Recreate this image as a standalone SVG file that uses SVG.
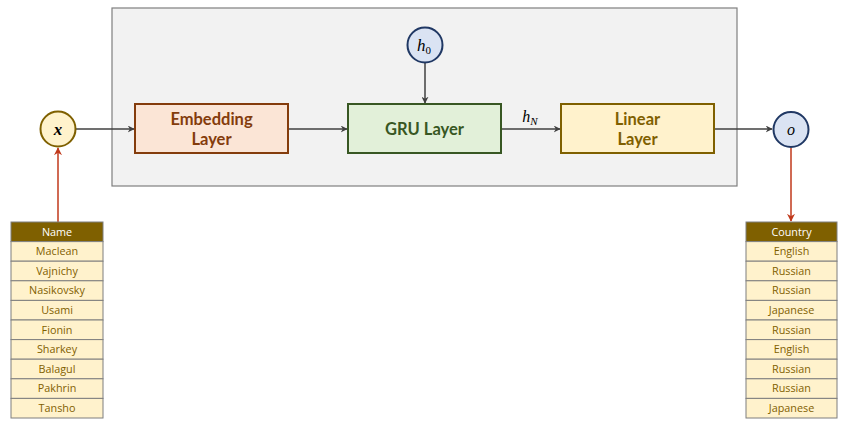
<svg xmlns="http://www.w3.org/2000/svg" width="854" height="425" viewBox="0 0 854 425">
<style>
.lbl{font-family:Lato,"Open Sans",sans-serif;font-weight:bold;font-size:16.5px;text-anchor:middle}
.math{font-family:"Liberation Serif","DejaVu Serif",serif;font-style:italic;text-anchor:middle}
.cell{fill:#FFF2CC;stroke:#7F7F7F;stroke-width:1}
.hdr{fill:#7F6000;stroke:#7F7F7F;stroke-width:1}
.ct{font-family:"Open Sans","Noto Sans",sans-serif;font-size:10.8px;fill:#7F6000;text-anchor:middle}
.ht{font-family:"Open Sans","Noto Sans",sans-serif;font-size:10.8px;fill:#FFFFFF;text-anchor:middle}
.conn{stroke:#404040;stroke-width:1.5;fill:none;marker-end:url(#ah)}
.red{stroke:#C0391B;stroke-width:1.5;fill:none;marker-end:url(#ahr)}
</style>
<defs>
<marker id="ah" viewBox="0 0 10 10" refX="9" refY="5" markerWidth="7" markerHeight="7" markerUnits="userSpaceOnUse" orient="auto">
<path d="M0,0 L10,5 L0,10 L3,5 Z" fill="#404040"/>
</marker>
<marker id="ahr" viewBox="0 0 10 10" refX="9" refY="5" markerWidth="8" markerHeight="8" markerUnits="userSpaceOnUse" orient="auto">
<path d="M0,0 L10,5 L0,10 L3,5 Z" fill="#C0391B"/>
</marker>
</defs>
<rect width="854" height="425" fill="#FFFFFF"/>
<g id="container">
<rect x="112" y="8" width="625" height="178" fill="#F2F2F2" stroke="#7F7F7F" stroke-width="1.2"/>
</g>
<g id="connectors">
<line class="conn" x1="76" y1="129" x2="134" y2="129"/>
<line class="conn" x1="288" y1="129" x2="347" y2="129"/>
<line class="conn" x1="425" y1="63" x2="425" y2="103"/>
<line class="conn" x1="501" y1="129" x2="560" y2="129"/>
<line class="conn" x1="714" y1="129" x2="772" y2="129"/>
<line class="red" x1="58" y1="222" x2="58" y2="148"/>
<line class="red" x1="791" y1="148" x2="791" y2="221"/>
<text class="math" x="530" y="122" font-size="16">h<tspan font-size="11" dy="3">N</tspan></text>
</g>
<g id="x">
<circle cx="58" cy="129" r="17.5" fill="#FFF2CC" stroke="#7F6000" stroke-width="2"/>
<text class="math" x="58" y="135" font-size="17" font-weight="bold">x</text>
</g>
<g id="embedding">
<rect x="135" y="104" width="153" height="49" fill="#FBE5D6" stroke="#843C0C" stroke-width="2"/>
<text class="lbl" fill="#843C0C"><tspan x="211.5" y="125">Embedding</tspan><tspan x="211.5" y="145">Layer</tspan></text>
</g>
<g id="h0">
<circle cx="425" cy="45" r="17.5" fill="#DAE3F3" stroke="#203864" stroke-width="2"/>
<text class="math" x="424" y="51" font-size="17">h<tspan font-size="11" dy="3" font-style="normal">0</tspan></text>
</g>
<g id="gru">
<rect x="348" y="104" width="153" height="49" fill="#E2F0D9" stroke="#385723" stroke-width="2"/>
<text class="lbl" x="424.5" y="135" fill="#385723">GRU Layer</text>
</g>
<g id="linear">
<rect x="561" y="104" width="153" height="49" fill="#FFF2CC" stroke="#7F6000" stroke-width="2"/>
<text class="lbl" fill="#7F6000"><tspan x="637.5" y="125">Linear</tspan><tspan x="637.5" y="145">Layer</tspan></text>
</g>
<g id="o">
<circle cx="791" cy="129.5" r="17.5" fill="#DAE3F3" stroke="#203864" stroke-width="2"/>
<text class="math" x="791" y="135" font-size="16">o</text>
</g>
<g id="name-table">
<rect class="hdr" x="11" y="222" width="92" height="19.6"/>
<text class="ht" x="57" y="235.5">Name</text>
<rect class="cell" x="11" y="241.6" width="92" height="19.6"/>
<text class="ct" x="57" y="255.2">Maclean</text>
<rect class="cell" x="11" y="261.2" width="92" height="19.6"/>
<text class="ct" x="57" y="274.8">Vajnichy</text>
<rect class="cell" x="11" y="280.8" width="92" height="19.6"/>
<text class="ct" x="57" y="294.4">Nasikovsky</text>
<rect class="cell" x="11" y="300.4" width="92" height="19.6"/>
<text class="ct" x="57" y="314">Usami</text>
<rect class="cell" x="11" y="320" width="92" height="19.6"/>
<text class="ct" x="57" y="333.6">Fionin</text>
<rect class="cell" x="11" y="339.6" width="92" height="19.6"/>
<text class="ct" x="57" y="353.2">Sharkey</text>
<rect class="cell" x="11" y="359.2" width="92" height="19.6"/>
<text class="ct" x="57" y="372.8">Balagul</text>
<rect class="cell" x="11" y="378.8" width="92" height="19.6"/>
<text class="ct" x="57" y="392.4">Pakhrin</text>
<rect class="cell" x="11" y="398.4" width="92" height="19.6"/>
<text class="ct" x="57" y="412">Tansho</text>
</g>
<g id="country-table">
<rect class="hdr" x="746" y="222" width="91" height="19.6"/>
<text class="ht" x="791.5" y="235.5">Country</text>
<rect class="cell" x="746" y="241.6" width="91" height="19.6"/>
<text class="ct" x="791.5" y="255.2">English</text>
<rect class="cell" x="746" y="261.2" width="91" height="19.6"/>
<text class="ct" x="791.5" y="274.8">Russian</text>
<rect class="cell" x="746" y="280.8" width="91" height="19.6"/>
<text class="ct" x="791.5" y="294.4">Russian</text>
<rect class="cell" x="746" y="300.4" width="91" height="19.6"/>
<text class="ct" x="791.5" y="314">Japanese</text>
<rect class="cell" x="746" y="320" width="91" height="19.6"/>
<text class="ct" x="791.5" y="333.6">Russian</text>
<rect class="cell" x="746" y="339.6" width="91" height="19.6"/>
<text class="ct" x="791.5" y="353.2">English</text>
<rect class="cell" x="746" y="359.2" width="91" height="19.6"/>
<text class="ct" x="791.5" y="372.8">Russian</text>
<rect class="cell" x="746" y="378.8" width="91" height="19.6"/>
<text class="ct" x="791.5" y="392.4">Russian</text>
<rect class="cell" x="746" y="398.4" width="91" height="19.6"/>
<text class="ct" x="791.5" y="412">Japanese</text>
</g>
</svg>
